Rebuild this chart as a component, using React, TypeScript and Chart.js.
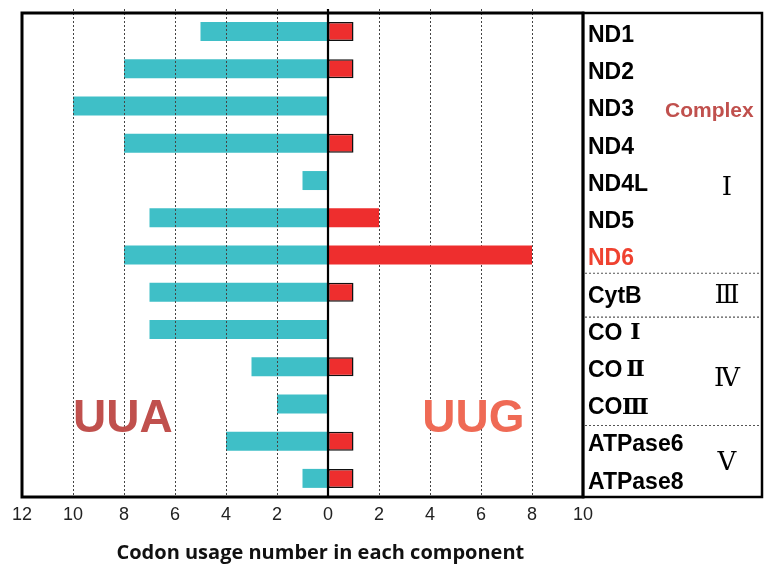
import React, { useEffect, useRef } from "react";
import { Chart, registerables } from "chart.js";
Chart.register(...registerables);

// ---- data ----
const genes = ["ND1", "ND2", "ND3", "ND4", "ND4L", "ND5", "ND6", "CytB", "COⅠ", "COⅡ", "COⅢ", "ATPase6", "ATPase8"];
const uuaCounts = [5, 8, 10, 8, 1, 7, 8, 7, 7, 3, 2, 4, 1];
const uugCounts = [1, 1, 0, 1, 0, 2, 8, 1, 0, 1, 0, 1, 1];
const complexNames = ["Ⅰ", "Ⅲ", "Ⅳ", "Ⅴ"];
const complexLabelRow = [4.2, 7.1, 9.35, 11.6];
const complexSeparatorRows = [6.49, 7.67, 10.58];
const xMin = -12;
const xMax = 10;
const xStep = 2;
const axisTitle = "Codon usage number in each component";
const leftLabel = "UUA";
const rightLabel = "UUG";
const complexWord = "Complex";

const CYAN = "#3fbfc7";
const RED = "#ee2e2e";
const SANS = '"Liberation Sans", Arial, sans-serif';
const SERIF = '"DejaVu Serif", "Liberation Serif", serif';

const overlay = {
  id: "overlay",
  afterDatasetDraw(chart: any, args: any) {
    if (args.index !== 0) return;
    const { ctx, chartArea } = chart;
    const x = chart.scales.x;
    ctx.save();
    ctx.strokeStyle = "#444";
    ctx.lineWidth = 1;
    ctx.setLineDash([2, 2]);
    x.ticks.forEach((t: any) => {
      if (t.value === 0 || t.value === xMin || t.value === xMax) return;
      const px = Math.round(x.getPixelForValue(t.value)) + 0.5;
      ctx.beginPath();
      ctx.moveTo(px, chartArea.top - 4);
      ctx.lineTo(px, chartArea.bottom);
      ctx.stroke();
    });
    ctx.restore();
  },
  afterDraw(chart: any) {
    const { ctx, chartArea } = chart;
    const x = chart.scales.x;
    const y = chart.scales.y;
    const { left, right, top, bottom } = chartArea;
    ctx.save();
    // zero line
    const zx = x.getPixelForValue(0);
    ctx.strokeStyle = "#000";
    ctx.lineWidth = 2.2;
    ctx.beginPath();
    ctx.moveTo(zx, top - 4);
    ctx.lineTo(zx, bottom);
    ctx.stroke();
    // frame
    ctx.lineWidth = 3;
    ctx.strokeRect(left, top, right - left, bottom - top);
    // right panel
    const pR = right + 179;
    ctx.lineWidth = 2.5;
    ctx.strokeRect(right, top, pR - right, bottom - top);
    // separators
    ctx.lineWidth = 1.2;
    ctx.strokeStyle = "#555";
    ctx.setLineDash([2, 2]);
    complexSeparatorRows.forEach((r) => {
      const py = y.getPixelForValue(r);
      ctx.beginPath();
      ctx.moveTo(right + 2, py);
      ctx.lineTo(pR - 2, py);
      ctx.stroke();
    });
    ctx.setLineDash([]);
    // gene labels
    ctx.textBaseline = "middle";
    ctx.textAlign = "left";
    genes.forEach((g, i) => {
      const py = y.getPixelForValue(i) + 4;
      const m = g.match(/^(.*?)([Ⅰ-Ⅻ]+)$/);
      ctx.fillStyle = g === "ND6" ? "#ef4230" : "#000";
      if (m) {
        ctx.font = `bold 23px ${SANS}`;
        ctx.fillText(m[1], right + 5, py);
        const w = ctx.measureText(m[1]).width;
        ctx.font = `bold 22px ${SERIF}`;
        ctx.textAlign = "center";
        ctx.fillText(m[2], right + 5 + w + 13, py);
        ctx.textAlign = "left";
      } else {
        ctx.font = `bold 23px ${SANS}`;
        ctx.fillText(g, right + 5, py);
      }
    });
    // complex word
    ctx.fillStyle = "#c0504d";
    ctx.font = `bold 21px ${SANS}`;
    ctx.fillText(complexWord, right + 82, y.getPixelForValue(2.13));
    // complex numerals
    ctx.fillStyle = "#000";
    ctx.textAlign = "center";
    ctx.font = `26px ${SERIF}`;
    complexNames.forEach((n, i) => {
      ctx.fillText(n, right + 144, y.getPixelForValue(complexLabelRow[i]));
    });
    // big labels
    ctx.textAlign = "left";
    ctx.textBaseline = "alphabetic";
    ctx.font = `bold 46px ${SANS}`;
    ctx.fillStyle = "#c0504d";
    ctx.fillText(leftLabel, x.getPixelForValue(-10), y.getPixelForValue(10.75));
    ctx.fillStyle = "#ef6a55";
    ctx.fillText(rightLabel, x.getPixelForValue(3.7), y.getPixelForValue(10.75));
    // axis title
    ctx.fillStyle = "#111";
    ctx.textAlign = "center";
    ctx.textBaseline = "middle";
    ctx.font = `bold 20px "Open Sans", ${SANS}`;
    ctx.fillText(axisTitle, x.getPixelForValue(-0.3), 553);
    ctx.restore();
  },
};

export default function App() {
  const ref = useRef<HTMLCanvasElement>(null);
  useEffect(() => {
    if (!ref.current) return;
    const chart = new Chart(ref.current, {
      type: "bar",
      data: {
        labels: genes,
        datasets: [
          {
            label: "UUA",
            data: uuaCounts.map((v) => -v),
            backgroundColor: CYAN,
            borderWidth: 0,
            order: 2,
            barPercentage: 0.51,
            categoryPercentage: 1,
          },
          {
            label: "UUG",
            data: uugCounts,
            backgroundColor: RED,
            borderColor: "#111",
            borderWidth: uugCounts.map((v) => (v === 1 ? 1.5 : 0)),
            borderSkipped: false,
            order: 1,
            barPercentage: 0.51,
            categoryPercentage: 1,
          },
        ],
      },
      options: {
        indexAxis: "y",
        responsive: false,
        animation: false,
        devicePixelRatio: 1,
        layout: { padding: { left: 22, right: 191, top: 13, bottom: 0 } },
        plugins: { legend: { display: false }, tooltip: { enabled: false } },
        scales: {
          x: {
            type: "linear",
            min: xMin,
            max: xMax,
            stacked: true,
            ticks: {
              stepSize: xStep,
              callback: (v: any) => String(Math.abs(Number(v))),
              font: { family: SANS, size: 18 },
              color: "#222",
              padding: 7,
              maxRotation: 0,
            },
            grid: { display: false, drawTicks: false },
            border: { display: false },
            afterFit: (s: any) => {
              s.height = 78;
            },
          },
          y: {
            type: "category",
            stacked: true,
            display: false,
            offset: true,
          },
        },
      },
      plugins: [overlay],
    } as any);
    return () => chart.destroy();
  }, []);
  return (
    <div style={{ position: "fixed", left: 0, top: 0, width: 774, height: 575, background: "#fff" }}>
      <canvas ref={ref} width={774} height={575} style={{ display: "block" }} />
    </div>
  );
}
